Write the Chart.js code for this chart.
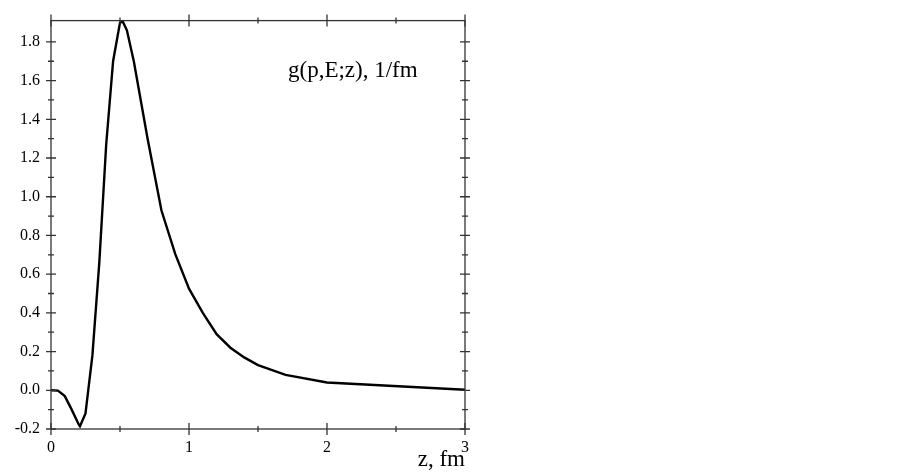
<!DOCTYPE html>
<html>
<head>
<meta charset="utf-8">
<script src="https://cdn.jsdelivr.net/npm/chart.js@4.4.1/dist/chart.umd.min.js"></script>
<style>
  html, body { margin: 0; padding: 0; background: #fff; }
  #wrap { position: relative; width: 902px; height: 476px; }
</style>
</head>
<body>
<div id="wrap"><canvas id="gChart" width="902" height="476"></canvas></div>
<script>
// curve g(p,E;z)
const zValues = [0, 0.05, 0.1, 0.15, 0.2, 0.21, 0.25, 0.3, 0.35, 0.4, 0.45, 0.5, 0.52, 0.55, 0.6, 0.7, 0.8, 0.9, 1.0, 1.1, 1.2, 1.3, 1.4, 1.5, 1.7, 2.0, 3.0];
const gValues = [0, -0.002, -0.03, -0.1, -0.175, -0.186, -0.12, 0.18, 0.66, 1.27, 1.7, 1.9, 1.905, 1.86, 1.70, 1.30, 0.93, 0.705, 0.525, 0.40, 0.29, 0.22, 0.17, 0.13, 0.08, 0.04, 0.003];

const xTicks = [0, 1, 2, 3];
const xMinorTicks = [0.5, 1.5, 2.5];
const yTicks = [-0.2, 0.0, 0.2, 0.4, 0.6, 0.8, 1.0, 1.2, 1.4, 1.6, 1.8];
const yMinorTicks = [-0.1, 0.1, 0.3, 0.5, 0.7, 0.9, 1.1, 1.3, 1.5, 1.7];

const X_MIN = 0, X_MAX = 3, Y_MIN = -0.2, Y_MAX = 1.91;
const serif = '"Liberation Serif", "Times New Roman", serif';
const axisColor = '#333';

// frame, ticks crossing all four sides, and the text labels
const framePlugin = {
    id: 'frame',
    afterDraw(chart) {
        const { ctx, chartArea: a, scales: { x, y } } = chart;
        ctx.save();
        ctx.strokeStyle = axisColor;
        ctx.lineWidth = 1.3;
        ctx.strokeRect(a.left, a.top, a.right - a.left, a.bottom - a.top);

        ctx.beginPath();
        const tickX = (v, half) => {
            const px = x.getPixelForValue(v);
            ctx.moveTo(px, a.bottom - half); ctx.lineTo(px, a.bottom + half);
            ctx.moveTo(px, a.top - half); ctx.lineTo(px, a.top + half);
        };
        const tickY = (v, half) => {
            const py = y.getPixelForValue(v);
            ctx.moveTo(a.left - half, py); ctx.lineTo(a.left + half, py);
            ctx.moveTo(a.right - half, py); ctx.lineTo(a.right + half, py);
        };
        xTicks.forEach(v => tickX(v, 6));
        xMinorTicks.forEach(v => tickX(v, 3));
        yTicks.forEach(v => tickY(v, 5));
        yMinorTicks.forEach(v => tickY(v, 3));
        ctx.stroke();

        ctx.fillStyle = '#000';
        ctx.textBaseline = 'alphabetic';
        ctx.textAlign = 'left';
        ctx.font = '23px ' + serif;
        ctx.fillText('g(p,E;z), 1/fm', 288, 77);
        ctx.textAlign = 'right';
        ctx.fillText('z, fm', 465, 466);
        ctx.restore();
    }
};

const ctx = document.getElementById('gChart').getContext('2d');
new Chart(ctx, {
    type: 'line',
    data: {
        datasets: [{
            data: zValues.map((z, i) => ({ x: z, y: gValues[i] })),
            borderColor: '#000',
            borderWidth: 2.4,
            pointRadius: 0,
            tension: 0,
            fill: false
        }]
    },
    options: {
        responsive: false,
        animation: false,
        layout: { padding: { left: 0, top: 12, right: 437, bottom: 0 } },
        plugins: { legend: { display: false }, tooltip: { enabled: false } },
        scales: {
            x: {
                type: 'linear', min: X_MIN, max: X_MAX,
                afterBuildTicks: s => { s.ticks = xTicks.map(v => ({ value: v })); },
                afterFit: s => { s.height = 47; },
                grid: { display: false, drawTicks: false },
                border: { display: false },
                ticks: { color: '#000', padding: 9, font: { family: serif, size: 16 }, callback: v => String(v) }
            },
            y: {
                type: 'linear', min: Y_MIN, max: Y_MAX,
                afterBuildTicks: s => { s.ticks = yTicks.map(v => ({ value: v })); },
                afterFit: s => { s.width = 51; },
                grid: { display: false, drawTicks: false },
                border: { display: false },
                ticks: { color: '#000', padding: 11, font: { family: serif, size: 16 }, callback: v => Number(v).toFixed(1) }
            }
        }
    },
    plugins: [framePlugin]
});
</script>
</body>
</html>
